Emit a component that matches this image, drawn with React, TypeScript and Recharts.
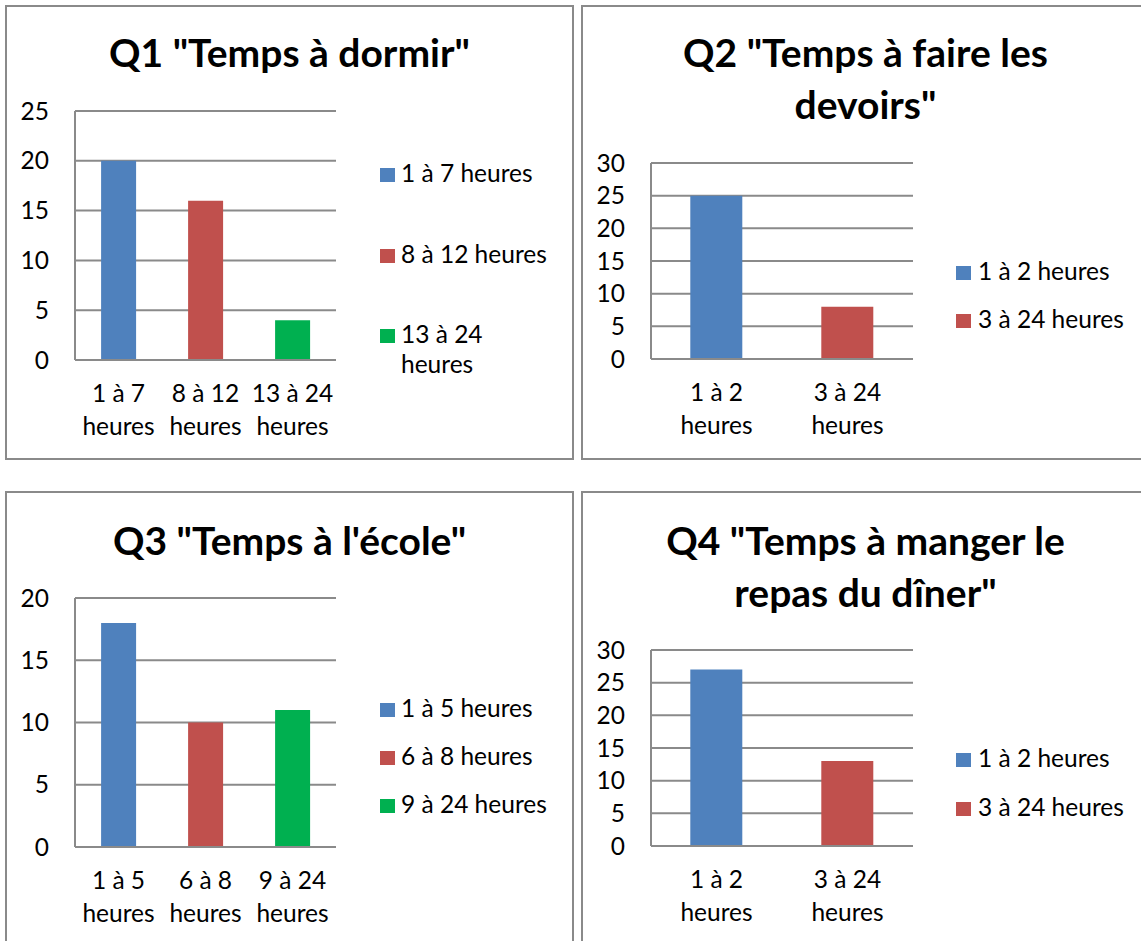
import React from "react";
import { BarChart, Bar, XAxis, YAxis, CartesianGrid, Cell } from "recharts";

const BLUE = "#4F81BD";
const RED = "#C0504D";
const GREEN = "#00B050";
const seriesColors = [BLUE, RED, GREEN];

const q1Categories = ["1 à 7 heures", "8 à 12 heures", "13 à 24 heures"];
const q1Values = [20, 16, 4];
const q1Ticks = [0, 5, 10, 15, 20, 25];
const q1TitleLines = ['Q1 "Temps à dormir"'];

const q2Categories = ["1 à 2 heures", "3 à 24 heures"];
const q2Values = [25, 8];
const q2Ticks = [0, 5, 10, 15, 20, 25, 30];
const q2TitleLines = ['Q2 "Temps à faire les', 'devoirs"'];

const q3Categories = ["1 à 5 heures", "6 à 8 heures", "9 à 24 heures"];
const q3Values = [18, 10, 11];
const q3Ticks = [0, 5, 10, 15, 20];
const q3TitleLines = ["Q3 \"Temps à l'école\""];

const q4Categories = ["1 à 2 heures", "3 à 24 heures"];
const q4Values = [27, 13];
const q4Ticks = [0, 5, 10, 15, 20, 25, 30];
const q4TitleLines = ['Q4 "Temps à manger le', 'repas du dîner"'];

const FONT = "Lato, 'Open Sans', sans-serif";
const GRID = "#8a8a8a";
const PANEL_W = 569;
const PANEL_H = 455;
const FS = 24.5;

function CategoryTick(props: any) {
  const { x, y, payload } = props;
  const label: string = payload.value;
  const first = label.replace(/ heures$/, "");
  return (
    <g>
      <text x={x} y={y + 42} textAnchor="middle" fill="#000" fontSize={FS} fontFamily={FONT}>
        {first}
      </text>
      <text x={x} y={y + 75} textAnchor="middle" fill="#000" fontSize={FS} fontFamily={FONT}>
        heures
      </text>
    </g>
  );
}

type PanelProps = {
  left: number;
  top: number;
  categories: string[];
  values: number[];
  ticks: number[];
  titleLines: string[];
  titleTop: number;
  titleLineH: number;
  plot: { l: number; t: number; r: number; b: number };
  legend: { squareX: number; textX: number; tops: number[]; textWidth: number };
};

function Panel(p: PanelProps) {
  const data = p.categories.map((c, i) => ({ name: c, value: p.values[i] }));
  const xAxisH = 80;
  const margin = {
    top: p.plot.t - p.top,
    right: p.left + PANEL_W - p.plot.r,
    bottom: p.top + PANEL_H - p.plot.b - xAxisH,
    left: 0,
  };
  const yMax = p.ticks[p.ticks.length - 1];
  return (
    <>
      <div
        style={{
          position: "absolute",
          left: p.left,
          top: p.top,
          width: PANEL_W,
          height: PANEL_H,
          border: `2px solid ${GRID}`,
          boxSizing: "border-box",
          background: "#fff",
        }}
      />
      <div
        style={{
          position: "absolute",
          left: p.left,
          top: p.titleTop,
          width: PANEL_W,
          textAlign: "center",
          fontFamily: FONT,
          fontWeight: 700,
          fontSize: 39,
          lineHeight: `${p.titleLineH}px`,
          color: "#000",
          whiteSpace: "nowrap",
        }}
      >
        {p.titleLines.map((t, i) => (
          <div key={i}>{t}</div>
        ))}
      </div>
      <div style={{ position: "absolute", left: p.left, top: p.top }}>
        <BarChart width={PANEL_W} height={PANEL_H} data={data} margin={margin} barCategoryGap="30%">
          <CartesianGrid vertical={false} stroke={GRID} strokeWidth={2} />
          <XAxis
            dataKey="name"
            interval={0}
            height={xAxisH}
            tickLine={false}
            tickSize={0}
            tickMargin={0}
            axisLine={{ stroke: GRID, strokeWidth: 2 }}
            tick={<CategoryTick />}
          />
          <YAxis
            width={p.plot.l - p.left}
            domain={[0, yMax]}
            ticks={p.ticks}
            interval={0}
            tickLine={false}
            tickSize={0}
            tickMargin={26}
            axisLine={{ stroke: GRID, strokeWidth: 2 }}
            tick={{ fill: "#000", fontSize: FS, fontFamily: FONT }}
          />
          <Bar dataKey="value" isAnimationActive={false}>
            {data.map((d, i) => (
              <Cell key={d.name} fill={seriesColors[i]} />
            ))}
          </Bar>
        </BarChart>
      </div>
      {p.categories.map((c, i) => (
        <div
          key={c}
          style={{
            position: "absolute",
            left: p.legend.squareX,
            top: p.legend.tops[i],
            fontFamily: FONT,
            fontSize: FS,
            lineHeight: "30px",
            color: "#000",
          }}
        >
          <div
            style={{
              position: "absolute",
              left: 0,
              top: 10,
              width: 15,
              height: 14,
              background: seriesColors[i],
            }}
          />
          <div
            style={{
              position: "absolute",
              left: p.legend.textX - p.legend.squareX,
              top: 0,
              width: p.legend.textWidth,
            }}
          >
            {c}
          </div>
        </div>
      ))}
    </>
  );
}

export default function App() {
  return (
    <div
      style={{
        position: "absolute",
        left: 0,
        top: 0,
        width: 1141,
        height: 941,
        overflow: "hidden",
        background: "#fff",
      }}
    >
      <Panel
        left={5}
        top={5}
        categories={q1Categories}
        values={q1Values}
        ticks={q1Ticks}
        titleLines={q1TitleLines}
        titleTop={26}
        titleLineH={52}
        plot={{ l: 75, t: 111, r: 336, b: 360 }}
        legend={{ squareX: 380, textX: 401, tops: [158, 239, 319], textWidth: 150 }}
      />
      <Panel
        left={581}
        top={5}
        categories={q2Categories}
        values={q2Values}
        ticks={q2Ticks}
        titleLines={q2TitleLines}
        titleTop={26}
        titleLineH={52}
        plot={{ l: 651, t: 163, r: 913, b: 359 }}
        legend={{ squareX: 956, textX: 978, tops: [256, 304], textWidth: 170 }}
      />
      <Panel
        left={5}
        top={491}
        categories={q3Categories}
        values={q3Values}
        ticks={q3Ticks}
        titleLines={q3TitleLines}
        titleTop={514}
        titleLineH={52}
        plot={{ l: 75, t: 598, r: 336, b: 847 }}
        legend={{ squareX: 380, textX: 401, tops: [693, 741, 789], textWidth: 170 }}
      />
      <Panel
        left={581}
        top={491}
        categories={q4Categories}
        values={q4Values}
        ticks={q4Ticks}
        titleLines={q4TitleLines}
        titleTop={514}
        titleLineH={52}
        plot={{ l: 651, t: 650, r: 913, b: 846 }}
        legend={{ squareX: 956, textX: 978, tops: [743, 792], textWidth: 170 }}
      />
    </div>
  );
}
